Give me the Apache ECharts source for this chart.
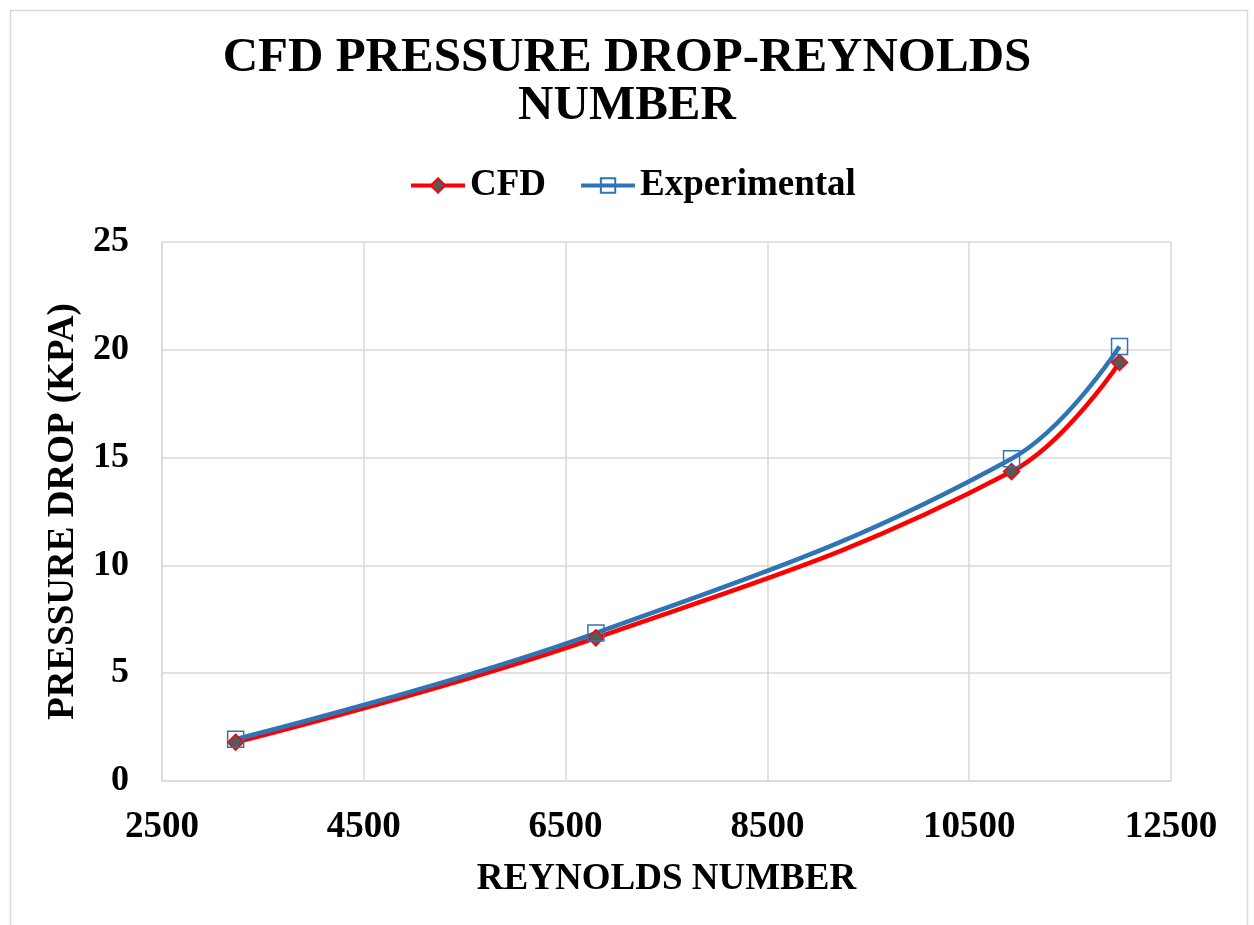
<!DOCTYPE html>
<html>
<head>
<meta charset="utf-8">
<script src="https://cdn.jsdelivr.net/npm/echarts@6/dist/echarts.min.js"></script>
<style>html,body{margin:0;padding:0;background:#fff;}#c{width:1254px;height:925px;}</style>
</head>
<body>
<div id="c"></div>
<script>
const reynolds = [3230, 6800, 10920, 11990];
const cfdDrop = [1.80, 6.64, 14.35, 19.41];
const expDrop = [1.94, 6.86, 14.95, 20.15];
const xTicks = { min: 2500, max: 12500, interval: 2000 };
const yTicks = { min: 0, max: 25, interval: 5 };

const font = '"Liberation Serif", "Times New Roman", serif';
const chart = echarts.init(document.getElementById('c'));
chart.setOption({
  backgroundColor: '#fff',
  animation: false,
  graphic: [{
    type: 'rect', left: 8, top: 8, shape: { x: 0, y: 0, width: 1237, height: 940 },
    style: { fill: 'none', stroke: '#d9d9d9', lineWidth: 1.5 }, silent: true
  }],
  title: {
    text: 'CFD PRESSURE DROP-REYNOLDS\nNUMBER',
    left: 'center', top: 29,
    textStyle: { fontFamily: font, fontWeight: 'bold', fontSize: 49, lineHeight: 48, color: '#000' }
  },
  legend: {
    left: 404, top: 162,
    itemWidth: 54, itemHeight: 18, itemGap: 33,
    lineStyle: { width: 4 },
    textStyle: { fontFamily: font, fontWeight: 'bold', fontSize: 37, color: '#000' },
    data: ['CFD', 'Experimental']
  },
  grid: { left: 162, top: 242, width: 1009, height: 539, containLabel: false },
  xAxis: {
    type: 'value', min: xTicks.min, max: xTicks.max, interval: xTicks.interval,
    name: 'REYNOLDS NUMBER', nameLocation: 'middle', nameGap: 80,
    nameTextStyle: { fontFamily: font, fontWeight: 'bold', fontSize: 37, color: '#000' },
    axisLine: { show: true, lineStyle: { color: '#d9d9d9', width: 1.5 } },
    axisTick: { show: false },
    splitLine: { show: true, lineStyle: { color: '#d9d9d9', width: 1.5 } },
    axisLabel: { fontFamily: font, fontWeight: 'bold', fontSize: 37, color: '#000', margin: 28,
      formatter: v => String(v) }
  },
  yAxis: {
    type: 'value', min: yTicks.min, max: yTicks.max, interval: yTicks.interval,
    name: 'PRESSURE DROP (KPA)', nameLocation: 'middle', nameGap: 80,
    nameTextStyle: { fontFamily: font, fontWeight: 'bold', fontSize: 37, color: '#000' },
    axisLine: { show: true, lineStyle: { color: '#d9d9d9', width: 1.5 } },
    axisTick: { show: false },
    splitLine: { show: true, lineStyle: { color: '#d9d9d9', width: 1.5 } },
    axisLabel: { fontFamily: font, fontWeight: 'bold', fontSize: 36, color: '#000', margin: 33 }
  },
  series: [
    {
      name: 'CFD', type: 'line', smooth: 0.4,
      data: reynolds.map((x, i) => [x, cfdDrop[i]]),
      lineStyle: { color: '#ff0000', width: 4.5 },
      symbol: 'diamond', symbolSize: 16,
      itemStyle: { color: '#595959', borderColor: '#ff0000', borderWidth: 1.5 }
    },
    {
      name: 'Experimental', type: 'line', smooth: 0.4,
      data: reynolds.map((x, i) => [x, expDrop[i]]),
      lineStyle: { color: '#2e75b6', width: 4.5 },
      symbol: 'rect', symbolSize: 16,
      itemStyle: { color: 'rgba(255,255,255,0)', borderColor: '#2e75b6', borderWidth: 1.5 }
    }
  ]
});
</script>
</body>
</html>
